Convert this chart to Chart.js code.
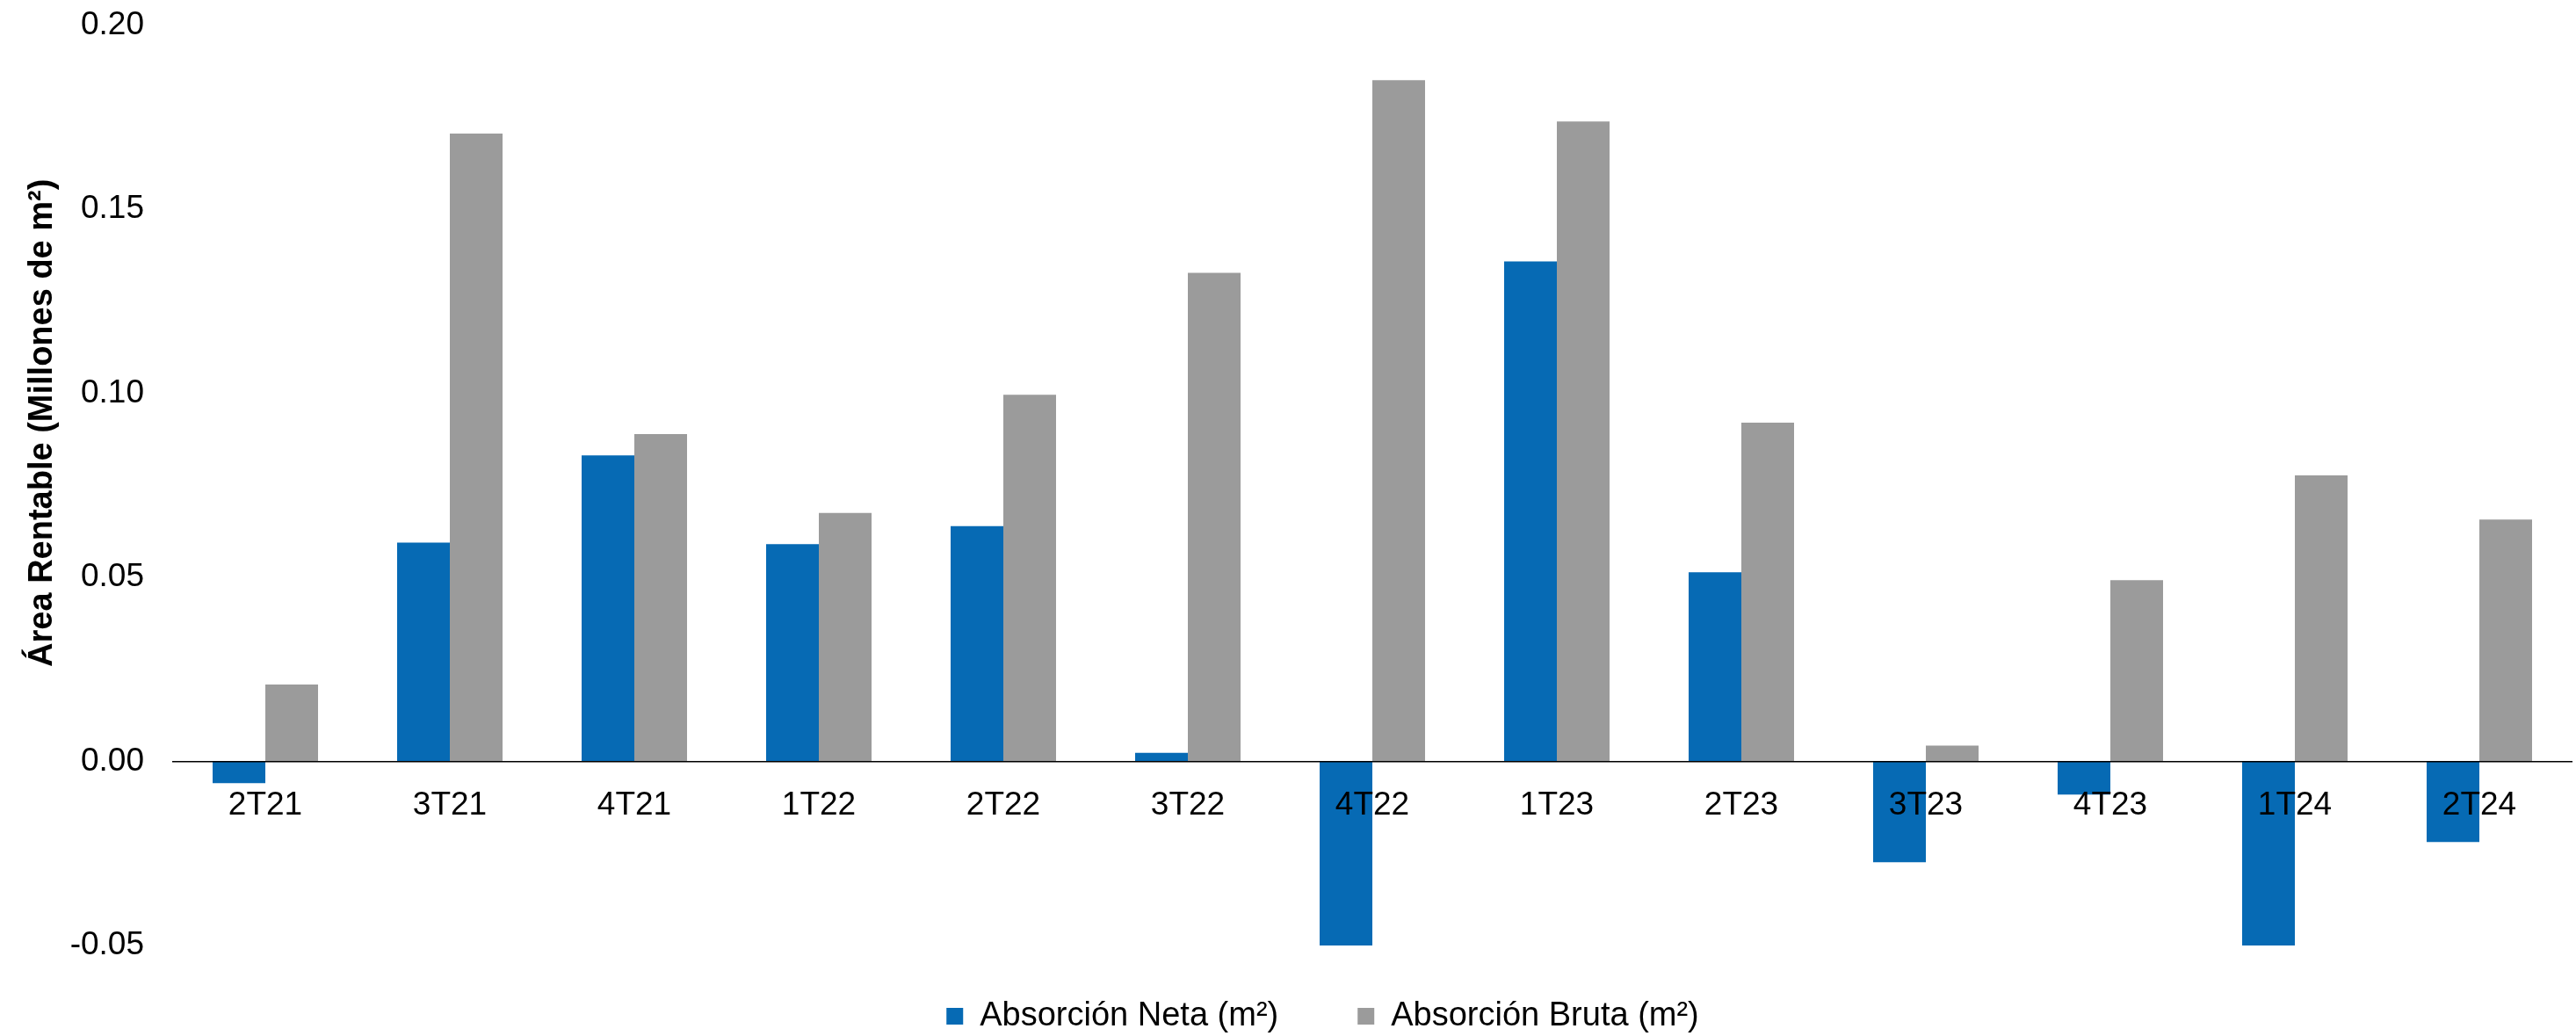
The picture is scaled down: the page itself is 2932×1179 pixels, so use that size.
<!DOCTYPE html>
<html>
<head>
<meta charset="utf-8">
<title>Absorción de área rentable</title>
<script src="https://cdn.jsdelivr.net/npm/chart.js@4.4.1/dist/chart.umd.min.js"></script>
<style>
  html, body { margin: 0; padding: 0; background: #ffffff; }
  #wrap { width: 2932px; height: 1179px; position: relative; }
</style>
</head>
<body>
<div id="wrap"><canvas id="chart"></canvas></div>
<script>
// Quarterly absorption, millions of m²
const quarters = ['2T21', '3T21', '4T21', '1T22', '2T22', '3T22', '4T22', '1T23', '2T23', '3T23', '4T23', '1T24', '2T24'];
const netAbsorption = [-0.0059, 0.0594, 0.0831, 0.0590, 0.0639, 0.0023, -0.0507, 0.1358, 0.0514, -0.0274, -0.0090, -0.0507, -0.0219];
const grossAbsorption = [0.0209, 0.1705, 0.0889, 0.0675, 0.0996, 0.1327, 0.1850, 0.1738, 0.0920, 0.0043, 0.0492, 0.0777, 0.0657];
const yTickValues = [-0.05, 0.00, 0.05, 0.10, 0.15, 0.20];
const seriesNames = ['Absorción Neta (m²)', 'Absorción Bruta (m²)'];
const yAxisTitle = 'Área Rentable (Millones de m²)';

const BLUE = '#066AB4';
const GRAY = '#9B9B9B';
const FONT = "'Liberation Sans', Arial, sans-serif";

// Vertical axis title, plus nudging the legend row into place
const sidePlugin = {
  id: 'sideTitle',
  afterLayout(chart) {
    const lg = chart.legend;
    if (lg) {
      lg.left += 42; lg.right += 42;
      lg.top -= 28.5;
    }
  },
  afterDraw(chart) {
    const { ctx, chartArea } = chart;
    ctx.save();
    ctx.font = 'bold 38px ' + FONT;
    ctx.fillStyle = '#000';
    ctx.textAlign = 'center';
    ctx.textBaseline = 'alphabetic';
    ctx.translate(59, (chartArea.top + chartArea.bottom) / 2 - 71);
    ctx.rotate(-Math.PI / 2);
    ctx.fillText(yAxisTitle, 0, 0);
    ctx.restore();
  }
};

new Chart(document.getElementById('chart'), {
  type: 'bar',
  data: {
    labels: quarters,
    datasets: [
      { label: seriesNames[0], data: netAbsorption, backgroundColor: BLUE, borderWidth: 0 },
      { label: seriesNames[1], data: grossAbsorption, backgroundColor: GRAY, borderWidth: 0 }
    ]
  },
  options: {
    responsive: true,
    maintainAspectRatio: false,
    animation: false,
    devicePixelRatio: 1,
    layout: { padding: { top: 28.5, right: 5, bottom: 0, left: 0 } },
    datasets: { bar: { categoryPercentage: 0.5714, barPercentage: 1.0 } },
    scales: {
      x: {
        position: { y: 0 },
        grid: { display: false, drawTicks: false },
        border: { display: true, color: '#000000', width: 1.5, z: 1 },
        ticks: { z: 1, color: '#000', font: { family: FONT, size: 37 }, padding: 28, maxRotation: 0, autoSkip: false }
      },
      y: {
        min: -0.05,
        max: 0.20,
        grid: { display: false, drawTicks: false },
        border: { display: false },
        afterBuildTicks: (scale) => { scale.ticks = yTickValues.map(v => ({ value: v })); },
        afterFit: (scale) => { scale.width = 197; scale.paddingTop = 0; scale.paddingBottom = 0; },
        ticks: {
          color: '#000',
          font: { family: FONT, size: 37 },
          padding: 33,
          callback: (v) => Number(v).toFixed(2)
        }
      }
    },
    plugins: {
      tooltip: { enabled: false },
      legend: {
        position: 'bottom',
        maxHeight: 103,
        labels: {
          color: '#000',
          font: { family: FONT, size: 38 },
          boxWidth: 19,
          boxHeight: 19,
          padding: 90
        }
      }
    }
  },
  plugins: [sidePlugin]
});
</script>
</body>
</html>
